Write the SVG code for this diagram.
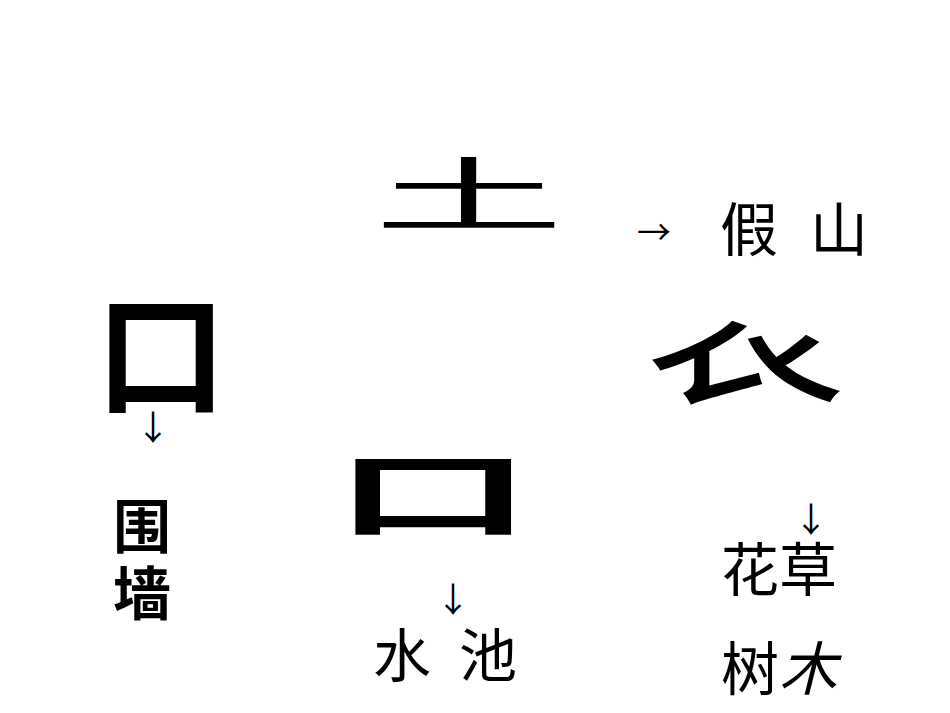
<svg xmlns="http://www.w3.org/2000/svg" width="950" height="713" viewBox="0 0 950 713">
<style>
.cjk{font-family:"Noto Sans CJK SC","Noto Sans CJK TC",sans-serif;fill:#000}
.lbl{font-size:58px}
.arr{font-family:"Noto Sans CJK SC","DejaVu Sans",sans-serif;font-size:34px;fill:#000}
</style>
<rect width="950" height="713" fill="#fff"/>
<g id="tu">
<text class="cjk" font-size="190" text-anchor="middle" transform="translate(469,224) scale(1,0.42)">土</text>
</g>
<g id="wei">
<text class="cjk" font-weight="bold" font-size="131" text-anchor="middle" x="161" y="403">口</text>
</g>
<g id="kou">
<text class="cjk" font-weight="bold" font-size="197" text-anchor="middle" transform="translate(433,528) scale(1,0.462)">口</text>
</g>
<g id="yi">
<text class="cjk" font-size="200" text-anchor="middle" transform="translate(745,391) scale(1,0.83)">𧘇</text>
</g>
<g id="connectors">
<text class="arr" x="654" y="245" text-anchor="middle">→</text>
<text class="arr" x="153" y="440" text-anchor="middle">↓</text>
<text class="arr" x="453" y="612" text-anchor="middle">↓</text>
<text class="arr" x="811" y="532" text-anchor="middle">↓</text>
</g>
<g id="labels">
<text class="cjk lbl" x="720" y="251">假</text>
<text class="cjk lbl" x="810" y="251">山</text>
<text class="cjk lbl" font-weight="bold" x="113" y="548">围</text>
<text class="cjk lbl" font-weight="bold" x="113" y="615">墙</text>
<text class="cjk lbl" x="373" y="677">水</text>
<text class="cjk lbl" x="459" y="677">池</text>
<text class="cjk lbl" x="721" y="591">花草</text>
<text class="cjk lbl" x="721" y="690">树<tspan font-style="italic">木</tspan></text>
</g>
</svg>
